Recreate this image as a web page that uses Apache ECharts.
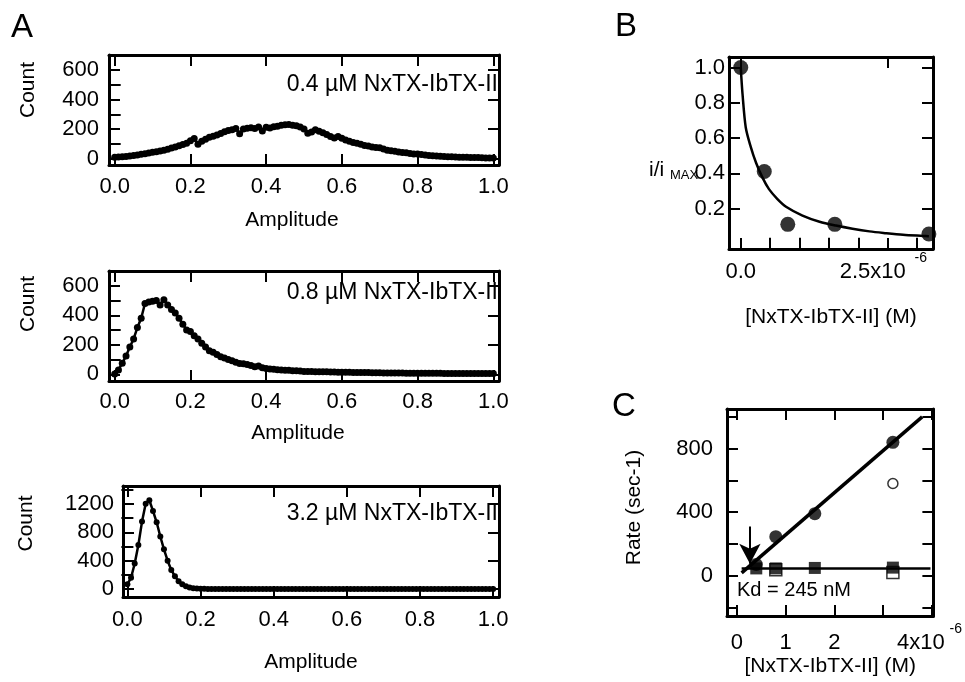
<!DOCTYPE html>
<html>
<head>
<meta charset="utf-8">
<script src="https://cdn.jsdelivr.net/npm/echarts@6/dist/echarts.min.js"></script>
<style>
    html, body { margin: 0; padding: 0; background: #fff; }
    #chart { width: 965px; height: 682px; }
</style>
</head>
<body>
<div id="chart"></div>
<script>
// ---- data ----
// amplitude bins (panel A)
var amplitude = [0.00,0.01,0.02,0.03,0.04,0.05,0.06,0.07,0.08,0.09,
    0.10,0.11,0.12,0.13,0.14,0.15,0.16,0.17,0.18,0.19,
    0.20,0.21,0.22,0.23,0.24,0.25,0.26,0.27,0.28,0.29,
    0.30,0.31,0.32,0.33,0.34,0.35,0.36,0.37,0.38,0.39,
    0.40,0.41,0.42,0.43,0.44,0.45,0.46,0.47,0.48,0.49,
    0.50,0.51,0.52,0.53,0.54,0.55,0.56,0.57,0.58,0.59,
    0.60,0.61,0.62,0.63,0.64,0.65,0.66,0.67,0.68,0.69,
    0.70,0.71,0.72,0.73,0.74,0.75,0.76,0.77,0.78,0.79,
    0.80,0.81,0.82,0.83,0.84,0.85,0.86,0.87,0.88,0.89,
    0.90,0.91,0.92,0.93,0.94,0.95,0.96,0.97,0.98,0.99,1.00];

// 0.4 uM
var count04 = [10,12,14,16,19,22,26,30,34,39,
    44,48,52,58,64,72,80,88,96,105,
    122,137,98,118,132,146,152,160,170,182,
    190,196,205,168,200,206,210,204,214,188,
    212,208,216,220,226,230,232,226,222,214,
    200,172,180,196,186,176,164,150,140,150,
    138,126,118,110,104,98,90,86,80,76,
    74,66,58,54,50,46,42,40,36,33,
    32,28,26,22,20,18,17,15,14,13,
    12,11,10,10,9,8,8,7,6,6,5];

// 0.8 uM
var count08 = [2,30,76,124,185,240,317,380,480,490,
    495,500,470,505,470,440,415,380,340,300,
    290,262,240,210,185,160,150,134,120,110,
    100,92,82,74,72,66,60,52,56,44,
    40,36,34,32,30,28,27,25,24,22,
    20,19,19,18,18,17,17,16,16,15,
    15,14,14,13,13,12,12,12,11,11,
    11,10,10,10,9,9,9,8,8,8,
    8,7,7,7,7,7,7,6,6,6,
    6,6,6,6,5,5,5,5,5,5,5];

// 3.2 uM
var count32 = [70,160,360,620,950,1200,1250,1100,940,740,
    560,400,270,180,112,68,40,24,14,8,
    5,5,4,4,4,4,4,4,4,4,
    4,4,4,4,4,4,4,4,4,4,
    4,4,4,4,4,4,4,4,4,4,
    4,4,4,4,4,4,4,4,4,4,
    4,4,4,4,4,4,4,4,4,4,
    4,4,4,4,4,4,4,4,4,4,
    4,4,4,4,4,4,4,4,4,4,
    4,4,4,4,4,4,4,4,4,4,4];

// panel B (concentration in 1e-6 M)
var bConc = [0, 0.4, 0.8, 1.6, 3.2];
var bRatio = [1.0, 0.41, 0.11, 0.11, 0.055];
var bFitConc = [0, 0.03, 0.085, 0.17, 0.26, 0.37, 0.48, 0.62, 0.77, 1.05, 1.34, 1.62, 1.9, 2.19, 2.47, 2.76, 3.1, 3.2];
var bFitRatio = [1.0, 0.85, 0.66, 0.55, 0.46, 0.375, 0.31, 0.255, 0.21, 0.16, 0.125, 0.103, 0.085, 0.07, 0.06, 0.051, 0.044, 0.042];

// panel C (concentration in 1e-6 M, rate in 1/s)
var cConc = [0.4, 0.8, 1.6, 3.2];
var cOnRate = [70, 245, 390, 840];
var cOffRate = [45, 45, 48, 50];
var cOpenConc = [3.2];
var cOpenRate = [580];
var cOpenSqConc = [0.8, 3.2];
var cOpenSqRate = [36, 20];
var cOnFitConc = [0.1, 3.8];
var cOnFitRate = [17, 1000];
var cOffFitConc = [0.1, 3.97];
var cOffFitRate = [45, 45];
var cArrowConc = [0.27, 0.27];
var cArrowRate = [310, 75];

// tick values
var ampTicks = [0, 0.2, 0.4, 0.6, 0.8, 1.0];
var countTicks = [0, 200, 400, 600];
var countMinor = [100, 300, 500];
var count32Ticks = [0, 400, 800, 1200];
var count32Minor = [200, 600, 1000, 1400];
var bxTicks = [0, 2.5];
var bxMinor = [0.5, 1.0, 1.5, 2.0, 3.0];
var byTicks = [0.2, 0.4, 0.6, 0.8, 1.0];
var cxTicks = [0, 1, 2, 3, 4];
var cxLabels = [0, 1, 2, 4];
var cyTicks = [-200, 0, 200, 400, 600, 800, 1000];
var cyLabels = [0, 400, 800];

var FONT = '"Liberation Sans", Arial, Helvetica, sans-serif';

function pairs(xs, ys) {
    return xs.map(function (x, i) { return [x, ys[i]]; });
}

var xAxes = [];
var yAxes = [];

// 画一个四面都有刻度的框
function boxAxis(dim, gi, o) {
    var list = dim === 'x' ? xAxes : yAxes;
    var sides = dim === 'x' ? ['bottom', 'top'] : ['left', 'right'];
    var mainIndex = list.length;
    sides.forEach(function (pos, k) {
        var base = {
            gridIndex: gi, type: 'value', position: pos, min: o.min, max: o.max,
            splitLine: { show: false },
            axisLine: { show: true, onZero: false, lineStyle: { color: '#000', width: 3 } },
            axisTick: { show: true, inside: true, length: 11, customValues: o.major, lineStyle: { color: '#000', width: 2 } },
            axisLabel: { show: false }
        };
        if (k === 0) {
            base.axisLabel = {
                show: true, customValues: o.labels || o.major, formatter: o.fmt,
                color: '#000', fontSize: 22, fontFamily: FONT, margin: o.margin, rich: o.rich
            };
            if (o.name) {
                base.name = o.name;
                base.nameLocation = 'middle';
                base.nameGap = o.nameGap;
                base.nameRotate = dim === 'y' ? 90 : 0;
                base.nameTextStyle = { color: '#000', fontSize: 21, fontFamily: FONT, padding: o.namePad || 0 };
            }
        }
        list.push(base);
        if (o.minor && o.minor.length) {
            list.push({
                gridIndex: gi, type: 'value', position: pos, min: o.min, max: o.max,
                splitLine: { show: false }, axisLine: { show: false },
                axisTick: { show: true, inside: true, length: 6, customValues: o.minor, lineStyle: { color: '#000', width: 2 } },
                axisLabel: { show: false }
            });
        }
    });
    return mainIndex;
}

var fix1 = function (v) { return v.toFixed(1); };
var plain = function (v) { return String(v); };
var expRich = {
    n: { fontSize: 22, fontFamily: FONT, color: '#000', padding: [10, 0, 0, 0] },
    p: { fontSize: 14, fontFamily: FONT, color: '#000', verticalAlign: 'top', width: 30 },
    q: { fontSize: 14, fontFamily: FONT, color: '#000', verticalAlign: 'top', width: 22 }
};

var grids = [
    { left: 109, top: 55, width: 390, height: 110 },
    { left: 109, top: 271, width: 390, height: 110 },
    { left: 123, top: 486, width: 376, height: 111 },
    { left: 729, top: 57, width: 204, height: 192 },
    { left: 727, top: 409, width: 207, height: 207 }
];

var ax = [];
// A1
ax.push({
    x: boxAxis('x', 0, { min: -0.015, max: 1.015, major: ampTicks, fmt: fix1, margin: 11, name: 'Amplitude', nameGap: 45, namePad: [0, 24, 0, 0] }),
    y: boxAxis('y', 0, { min: -42, max: 700, major: countTicks, minor: countMinor, fmt: plain, margin: 10, name: 'Count', nameGap: 70, namePad: [0, 0, 0, 40] })
});
// A2
ax.push({
    x: boxAxis('x', 1, { min: -0.015, max: 1.015, major: ampTicks, fmt: fix1, margin: 10, name: 'Amplitude', nameGap: 42, namePad: [0, 12, 0, 0] }),
    y: boxAxis('y', 1, { min: -45, max: 700, major: countTicks, minor: countMinor, fmt: plain, margin: 10, name: 'Count', nameGap: 70, namePad: [0, 0, 0, 44] })
});
// A3
ax.push({
    x: boxAxis('x', 2, { min: -0.012, max: 1.016, major: ampTicks, fmt: fix1, margin: 12, name: 'Amplitude', nameGap: 55 }),
    y: boxAxis('y', 2, { min: -110, max: 1450, major: count32Ticks, minor: count32Minor, labels: count32Ticks, fmt: plain, margin: 9, name: 'Count', nameGap: 86, namePad: [0, 0, 0, 36] })
});
// B
ax.push({
    x: boxAxis('x', 3, {
        min: -0.2, max: 3.27, major: bxTicks, minor: bxMinor, margin: 2, rich: expRich,
        fmt: function (v) { return v === 0 ? '{n|0.0}' : '{n|2.5x10}{p|-6}'; },
        name: '[NxTX-IbTX-II] (M)', nameGap: 58
    }),
    y: boxAxis('y', 3, { min: -0.03, max: 1.06, major: byTicks, fmt: fix1, margin: 4 })
});
// C
ax.push({
    x: boxAxis('x', 4, {
        min: -0.2, max: 4.03, major: cxTicks, labels: cxLabels, margin: 6, rich: expRich,
        fmt: function (v) { return v === 4 ? '{n|4x10}{q|-6}' : '{n|' + v + '}'; },
        name: '[NxTX-IbTX-II] (M)', nameGap: 40
    }),
    y: boxAxis('y', 4, { min: -255, max: 1050, major: cyTicks, labels: cyLabels, fmt: plain, margin: 14, name: 'Rate (sec-1)', nameGap: 82, namePad: [0, 0, 0, 10] })
});

function idx(p) { return { xAxisIndex: ax[p].x, yAxisIndex: ax[p].y }; }

function histSeries(p, counts, size, width) {
    return Object.assign({
        type: 'line', data: pairs(amplitude, counts), symbol: 'circle', symbolSize: size,
        itemStyle: { color: '#000' }, lineStyle: { color: '#000', width: width }
    }, idx(p));
}

var series = [
    histSeries(0, count04, 7, 2.5),
    histSeries(1, count08, 7, 2.5),
    histSeries(2, count32, 6, 2.5),
    Object.assign({
        type: 'line', data: pairs(bFitConc, bFitRatio), smooth: 0.3, showSymbol: false,
        lineStyle: { color: '#000', width: 2.5 }
    }, idx(3)),
    Object.assign({
        type: 'scatter', data: pairs(bConc, bRatio), symbol: 'circle', symbolSize: 15,
        itemStyle: { color: '#000' }
    }, idx(3)),
    Object.assign({
        type: 'line', data: pairs(cOnFitConc, cOnFitRate), showSymbol: false,
        lineStyle: { color: '#000', width: 3.5 }
    }, idx(4)),
    Object.assign({
        type: 'line', data: pairs(cOffFitConc, cOffFitRate), showSymbol: false,
        lineStyle: { color: '#000', width: 2.5 }
    }, idx(4)),
    Object.assign({
        type: 'scatter', data: pairs(cOpenSqConc, cOpenSqRate), symbol: 'rect', symbolSize: 12,
        itemStyle: { color: '#fff', borderColor: '#000', borderWidth: 1.5 }
    }, idx(4)),
    Object.assign({
        type: 'scatter', data: pairs(cConc, cOffRate), symbol: 'rect', symbolSize: 12,
        itemStyle: { color: '#000' }
    }, idx(4)),
    Object.assign({
        type: 'scatter', data: pairs(cConc, cOnRate), symbol: 'circle', symbolSize: 13,
        itemStyle: { color: '#000' }
    }, idx(4)),
    Object.assign({
        type: 'scatter', data: pairs(cOpenConc, cOpenRate), symbol: 'circle', symbolSize: 10,
        itemStyle: { color: '#fff', borderColor: '#000', borderWidth: 1.5 }
    }, idx(4)),
    // Kd arrow
    Object.assign({
        type: 'line', data: [], markLine: {
            silent: true, symbol: ['none', 'arrow'], symbolSize: [16, 20], label: { show: false },
            lineStyle: { color: '#000', width: 2, type: 'solid' },
            data: [[{ coord: [cArrowConc[0], cArrowRate[0]] }, { coord: [cArrowConc[1], cArrowRate[1]] }]]
        }
    }, idx(4))
];

var txt = { fontFamily: FONT, fill: '#000' };
var graphic = [
    { type: 'text', left: 11, top: 11, style: Object.assign({ text: 'A', fontSize: 33 }, txt) },
    { type: 'text', left: 615, top: 10, style: Object.assign({ text: 'B', fontSize: 33 }, txt) },
    { type: 'text', left: 612, top: 390, style: Object.assign({ text: 'C', fontSize: 33 }, txt) },
    { type: 'text', right: 467, top: 73, style: Object.assign({ text: '0.4 µM NxTX-IbTX-II', fontSize: 23 }, txt) },
    { type: 'text', right: 467, top: 281, style: Object.assign({ text: '0.8 µM NxTX-IbTX-II', fontSize: 23 }, txt) },
    { type: 'text', right: 467, top: 502, style: Object.assign({ text: '3.2 µM NxTX-IbTX-II', fontSize: 23 }, txt) },
    { type: 'text', left: 737, top: 580, style: Object.assign({ text: 'Kd = 245 nM', fontSize: 20 }, txt) },
    {
        type: 'text', left: 649, top: 160, style: Object.assign({
            text: '{a|i/i }{b|MAX}',
            rich: {
                a: { fontSize: 21, fontFamily: FONT, lineHeight: 22, verticalAlign: 'top' },
                b: { fontSize: 13, fontFamily: FONT, lineHeight: 13, verticalAlign: 'bottom' }
            }
        }, txt)
    }
];

var myChart = echarts.init(document.getElementById('chart'));
myChart.setOption({
    animation: false,
    backgroundColor: '#fff',
    grid: grids,
    xAxis: xAxes,
    yAxis: yAxes,
    series: series,
    graphic: graphic
});
</script>
</body>
</html>
